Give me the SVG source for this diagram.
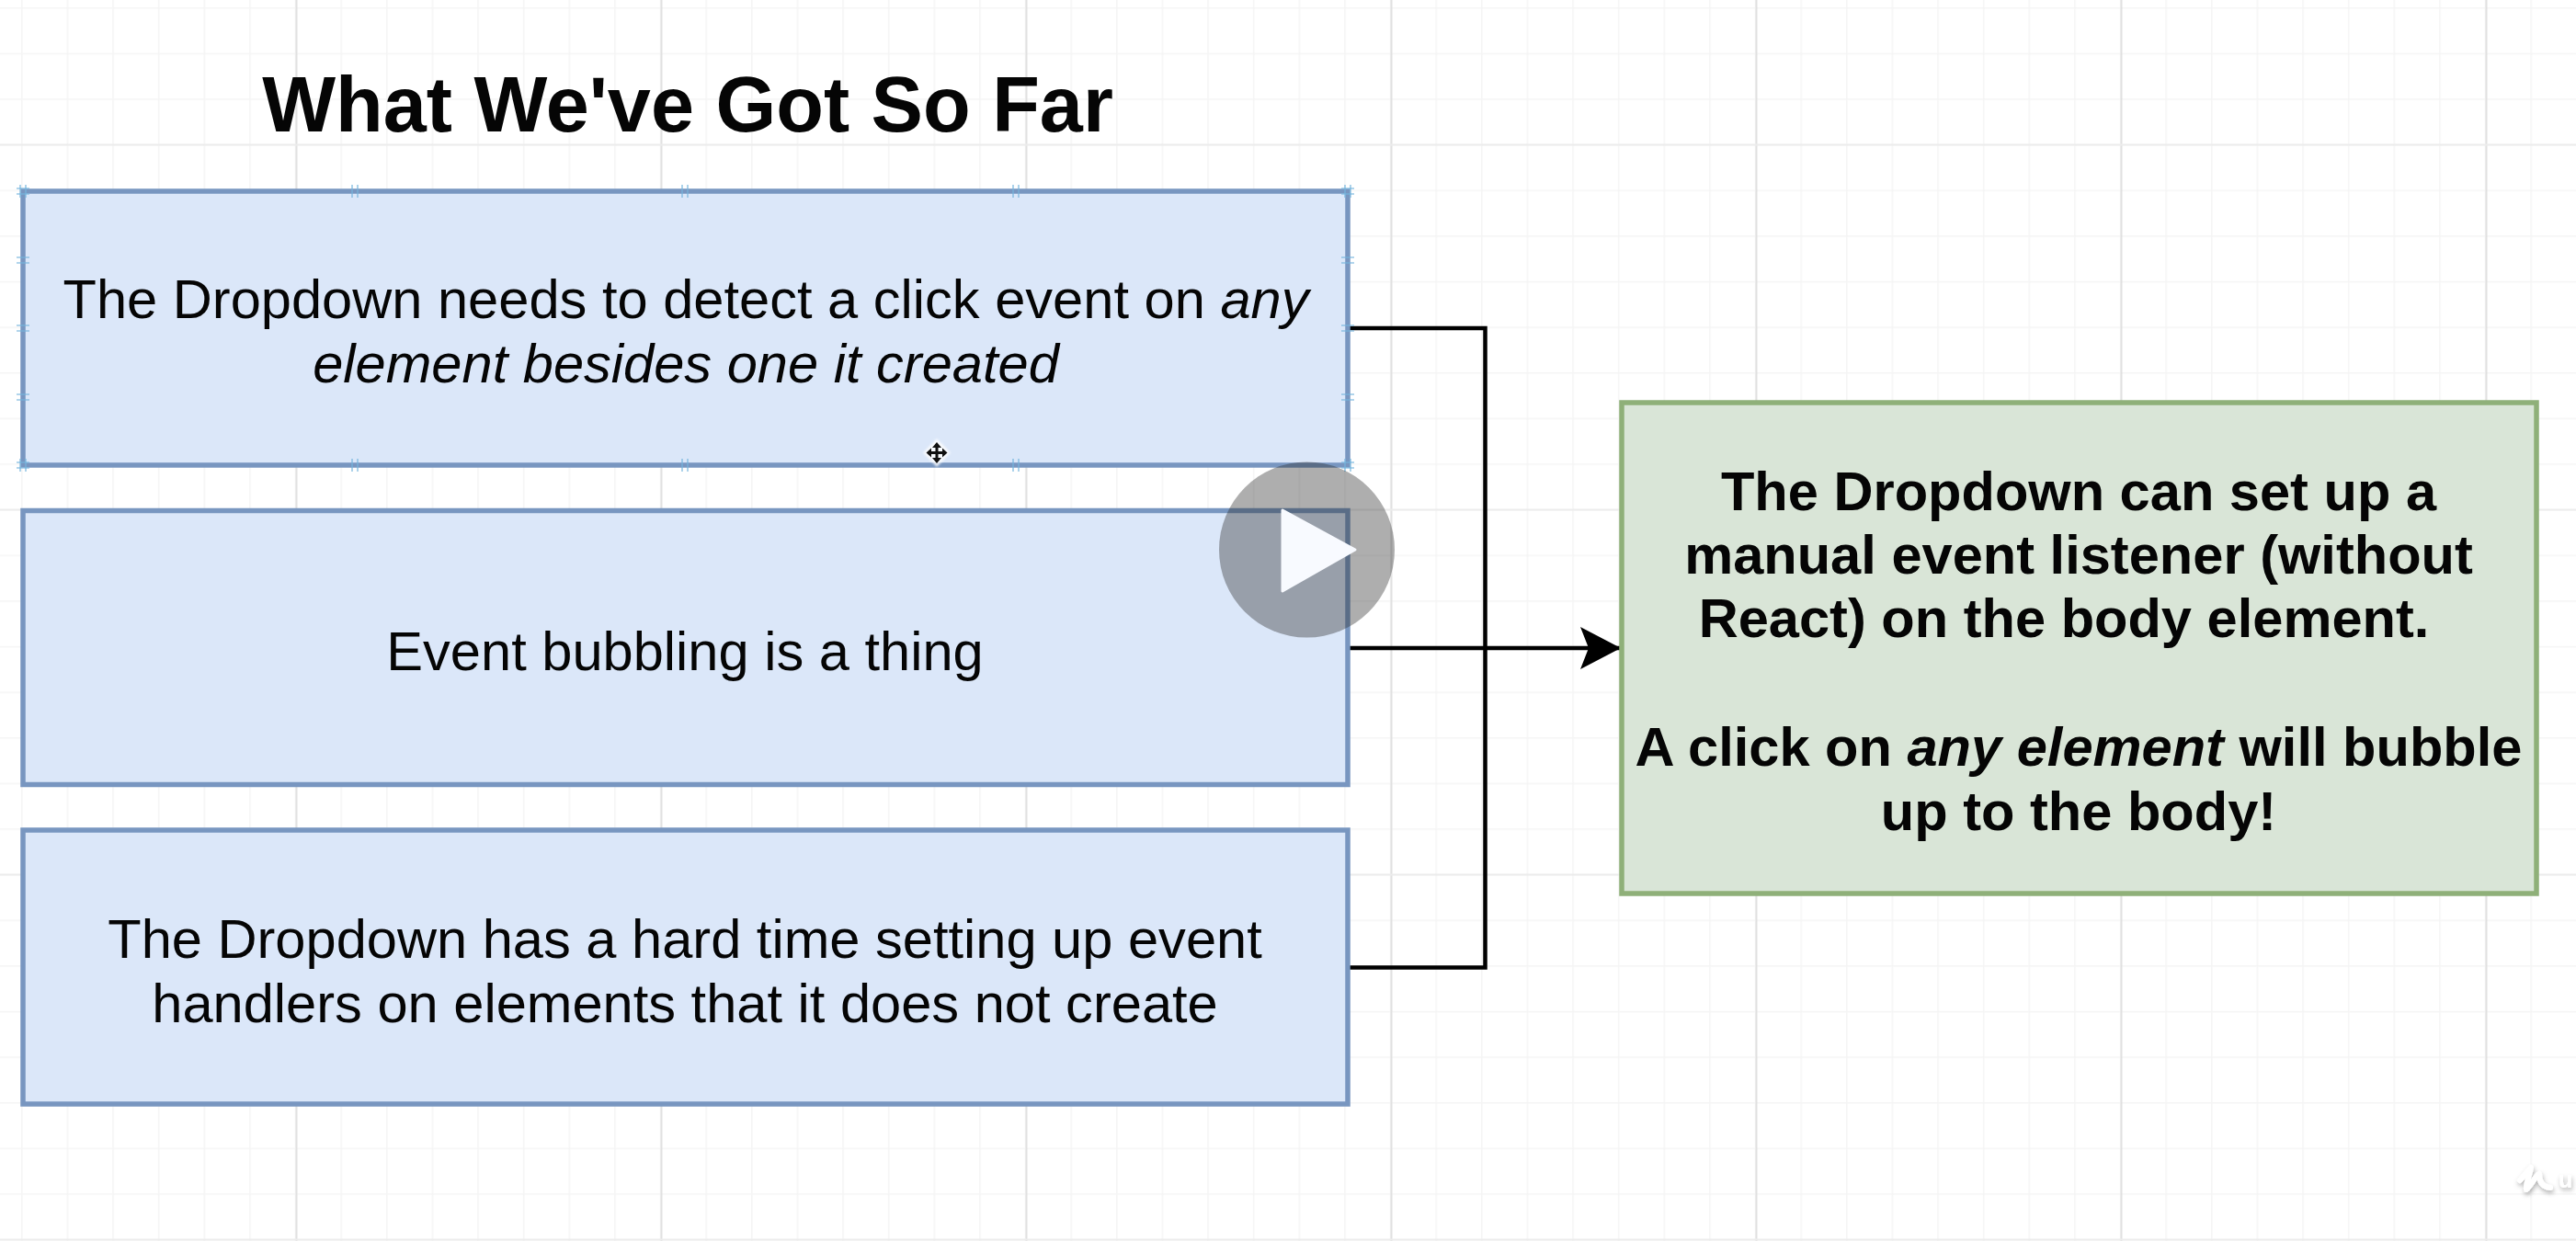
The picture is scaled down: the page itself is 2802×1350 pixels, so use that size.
<svg xmlns="http://www.w3.org/2000/svg" width="2802" height="1350" viewBox="0 0 2802 1350">
  <style>
    text { font-family: "Liberation Sans", Arial, sans-serif; fill: #050505; text-anchor: middle; }
    .title { font-size: 84.6px; font-weight: 700; }
    .body { font-size: 59.6px; }
    .bold { font-size: 59.6px; font-weight: 700; }
    .it { font-style: italic; }
    .blue { fill: #dbe7f9; stroke: #7896c0; stroke-width: 5.5; }
    .green { fill: #d9e5d7; stroke: #8fb079; stroke-width: 5.5; }
    .conn { fill: none; stroke: #000; stroke-width: 4.5; }
    .tick { stroke: #74b4dc; stroke-width: 1.6; fill: none; opacity: 0.75; }
    .wm { fill: #fff; font-size: 25px; font-weight: 700; text-anchor: start; }
  </style>
  <defs>
    <pattern id="minor" width="49.625" height="49.625" patternUnits="userSpaceOnUse" x="23" y="8">
      <path d="M0.8 0V49.625M0 0.8H49.625" fill="none" stroke="#f5f5f5" stroke-width="1.6"/>
    </pattern>
    <pattern id="major" width="397" height="397" patternUnits="userSpaceOnUse" x="321.5" y="156.5">
      <path d="M1 0V397" fill="none" stroke="#dedede" stroke-width="1.8"/>
      <path d="M0 1H397" fill="none" stroke="#ececec" stroke-width="1.8"/>
    </pattern>
    <marker id="head" markerUnits="userSpaceOnUse" markerWidth="46" markerHeight="48" refX="44" refY="24" orient="auto">
      <path d="M0 1L44 24L0 47L9 24Z" fill="#000"/>
    </marker>
    <g id="tickH"><path class="tick" d="M-3 -7V7M3 -7V7"/></g>
    <g id="tickV"><path class="tick" d="M-7 -3H7M-7 3H7"/></g>
    <filter id="shadow" x="-30%" y="-30%" width="170%" height="170%">
      <feDropShadow dx="1" dy="3" stdDeviation="2.5" flood-color="#000" flood-opacity="0.3"/>
    </filter>
    <filter id="soft" x="-30%" y="-30%" width="160%" height="160%">
      <feGaussianBlur stdDeviation="1.2"/>
    </filter>
  </defs>

  <rect id="page" width="2802" height="1350" fill="#ffffff"/>
  <g id="grid">
    <rect width="2802" height="1350" fill="url(#minor)"/>
    <rect width="2802" height="1350" fill="url(#major)"/>
  </g>

  <g id="connectors">
    <path class="conn" d="M1466 357H1615.500V1052.500H1466"/>
    <path class="conn" d="M1466 705H1763" marker-end="url(#head)"/>
  </g>

  <text id="title" class="title" x="748" y="143">What We've Got So Far</text>

  <g id="node-detect">
    <rect class="blue" x="25" y="208" width="1441" height="298"/>
    <text class="body" x="746" y="346">The Dropdown needs to detect a click event on <tspan class="it">any</tspan></text>
    <text class="body it" x="746" y="416">element besides one it created</text>
    <g id="selection-handles">
      <use href="#tickH" x="386" y="208"/><use href="#tickH" x="745" y="208"/><use href="#tickH" x="1105" y="208"/>
      <use href="#tickH" x="386" y="506"/><use href="#tickH" x="745" y="506"/><use href="#tickH" x="1105" y="506"/>
      <use href="#tickV" x="25" y="283"/><use href="#tickV" x="25" y="357"/><use href="#tickV" x="25" y="432"/>
      <use href="#tickV" x="1466" y="283"/><use href="#tickV" x="1466" y="357"/><use href="#tickV" x="1466" y="432"/>
      <use href="#tickH" x="25" y="208"/><use href="#tickV" x="25" y="208"/>
      <use href="#tickH" x="25" y="506"/><use href="#tickV" x="25" y="506"/>
      <use href="#tickH" x="1466" y="208"/><use href="#tickV" x="1466" y="208"/>
      <use href="#tickH" x="1466" y="506"/><use href="#tickV" x="1466" y="506"/>
    </g>
  </g>

  <g id="node-bubbling">
    <rect class="blue" x="25" y="555.500" width="1441" height="298"/>
    <text class="body" x="745" y="729">Event bubbling is a thing</text>
  </g>

  <g id="node-hard-time">
    <rect class="blue" x="25" y="903" width="1441" height="298"/>
    <text class="body" x="745" y="1042">The Dropdown has a hard time setting up event</text>
    <text class="body" x="745" y="1112">handlers on elements that it does not create</text>
  </g>

  <g id="node-solution">
    <rect class="green" x="1764" y="438" width="995" height="534"/>
    <text class="bold" x="2261" y="555">The Dropdown can set up a</text>
    <text class="bold" x="2261" y="624">manual event listener (without</text>
    <text class="bold" x="2245" y="693">React) on the body element.</text>
    <text class="bold" x="2261" y="833">A click on <tspan class="it">any element</tspan> will bubble</text>
    <text class="bold" x="2261" y="903">up to the body!</text>
  </g>

  <g id="cursor">
    <path d="M1019 477L1034 492.500L1019 508L1004 492.500Z" fill="#fff" opacity="0.8" filter="url(#soft)"/>
    <path d="M1019 484V501M1011 492.500H1027" stroke="#111" stroke-width="3" fill="none"/>
    <path d="M1019 481L1014 487H1024ZM1019 504L1014 498H1024ZM1007.500 492.500L1013 487.500V497.500ZM1030.500 492.500L1025 487.500V497.500Z" fill="#111"/>
  </g>

  <g id="play-button">
    <circle cx="1421.500" cy="598" r="95.500" fill="#2a2a2a" fill-opacity="0.38"/>
    <path d="M1395 555L1474 598L1395 643Z" fill="#f8faff" stroke="#f8faff" stroke-width="3" stroke-linejoin="round"/>
  </g>

  <g id="watermark" filter="url(#shadow)">
    <path d="M2741 1284C2745 1280 2750 1273 2753 1270C2752 1278 2747 1288 2748 1294C2753 1290 2757 1280 2762 1277C2762 1284 2764 1291 2774 1292" fill="none" stroke="#fff" stroke-width="6" stroke-linecap="round" stroke-linejoin="round"/>
    <text class="wm" x="2783" y="1292">u</text>
  </g>
</svg>
